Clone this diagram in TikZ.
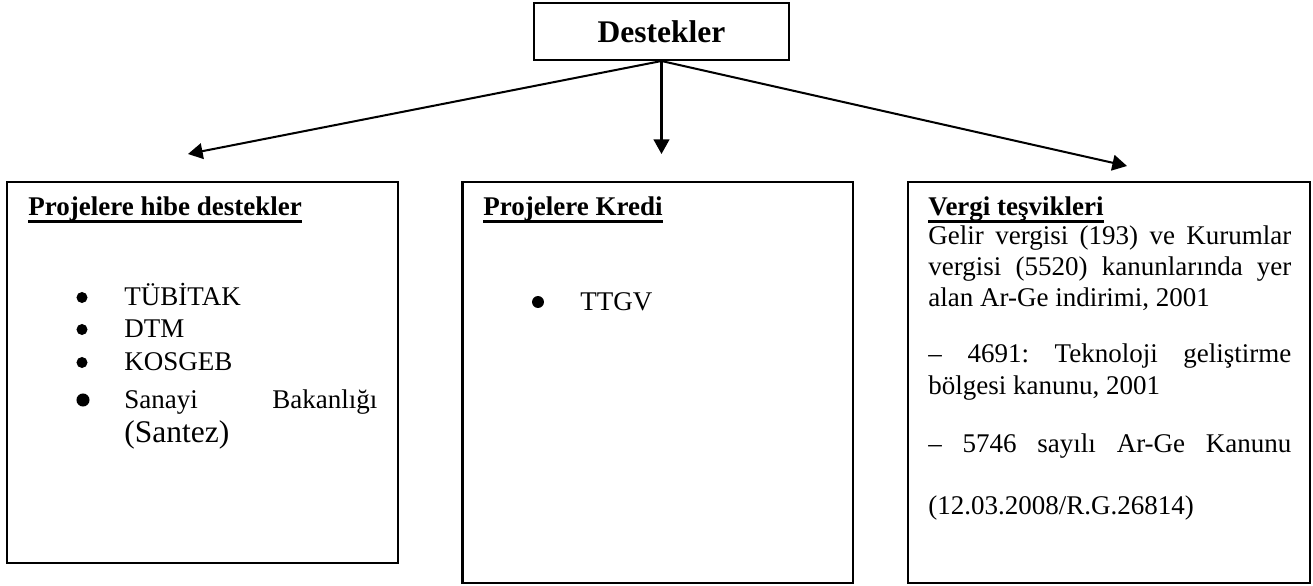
\documentclass[tikz,border=0pt]{standalone}
\usepackage{fontspec}
\setmainfont{Liberation Serif}
\usetikzlibrary{arrows.meta}
\newcommand{\px}{0.4444pt}
\newcommand{\normsz}{\fontsize{12}{13.8}\selectfont\frenchspacing}
\newcommand{\bigsz}{\fontsize{14}{16}\selectfont}
\newcommand{\hdr}[1]{\setbox0\hbox{\bfseries #1}\rlap{\rule[-3pt]{\wd0}{1.2pt}}\box0}
\newcommand{\jl}[1]{\makebox[161.3pt][s]{#1}}

\begin{document}
\begin{tikzpicture}[
  x=\px, y=-\px,
  kutu/.style={draw, line width=0.9pt, inner sep=0pt},
  ok/.style={-{Triangle[length=6.5pt,width=7pt]}, line width=0.9pt},
  ln/.style={anchor=base west, inner sep=0pt, font=\normsz},
  dot/.style={circle, fill, inner sep=0pt, minimum size=4.9pt}
]
\useasboundingbox (0,0) rectangle (1313,586);
\node[kutu, minimum width=255*\px, minimum height=57*\px, font=\bigsz\bfseries] (dest) at (661.5,31.5) {Destekler};
\node[kutu, minimum width=391*\px, minimum height=381*\px] (hibe) at (202.5,372.5) {};
\node[kutu, minimum width=390*\px, minimum height=401*\px] (kredi) at (657.5,382.5) {};
\node[kutu, minimum width=402*\px, minimum height=401*\px] (vergi) at (1109,382.5) {};
\coordinate (hibeTip) at (188,154);
\coordinate (krediTip) at (661.5,154);
\coordinate (vergiTip) at (1127,166);
\foreach \t in {hibeTip, krediTip, vergiTip}
  \draw[ok] (dest.south) -- (\t);
% hibe
\node[ln] (hibeH) at (28,216) {\hdr{Projelere hibe destekler}};
\node[dot] (hb1) at (82,297.5) {};
\node[ln] (ht1) at (124,306) {TÜBİTAK};
\node[dot] (hb2) at (82,329.5) {};
\node[ln] (ht2) at (124,338) {DTM};
\node[dot] (hb3) at (82,362.5) {};
\node[ln] (ht3) at (124,371) {KOSGEB};
\node[dot, minimum size=5.8pt] (hb4) at (83,400) {};
\node[ln] (ht4) at (124,409) {\makebox[112.4pt][s]{Sanayi Bakanlığı}};
\node[ln, font=\bigsz] (ht5) at (124,443) {(Santez)};
% kredi
\node[ln] (krediH) at (483,216) {\hdr{Projelere Kredi}};
\node[dot, minimum size=5.3pt] (kb1) at (538,302) {};
\node[ln] (kt1) at (580,311) {TTGV};
% vergi
\node[ln] (vergiH) at (928,216) {\hdr{Vergi teşvikleri}};
\node[ln] (v1) at (928,245) {\jl{Gelir vergisi (193) ve Kurumlar}};
\node[ln] (v2) at (928,276) {\jl{vergisi (5520) kanunlarında yer}};
\node[ln] (v3) at (928,307) {alan Ar-Ge indirimi, 2001};
\node[ln] (v4) at (928,363) {\jl{– 4691: Teknoloji geliştirme}};
\node[ln] (v5) at (928,395) {bölgesi kanunu, 2001};
\node[ln] (v6) at (928,452) {\jl{– 5746 sayılı Ar-Ge Kanunu}};
\node[ln] (v7) at (928,515) {(12.03.2008/R.G.26814)};
\end{tikzpicture}
\end{document}
